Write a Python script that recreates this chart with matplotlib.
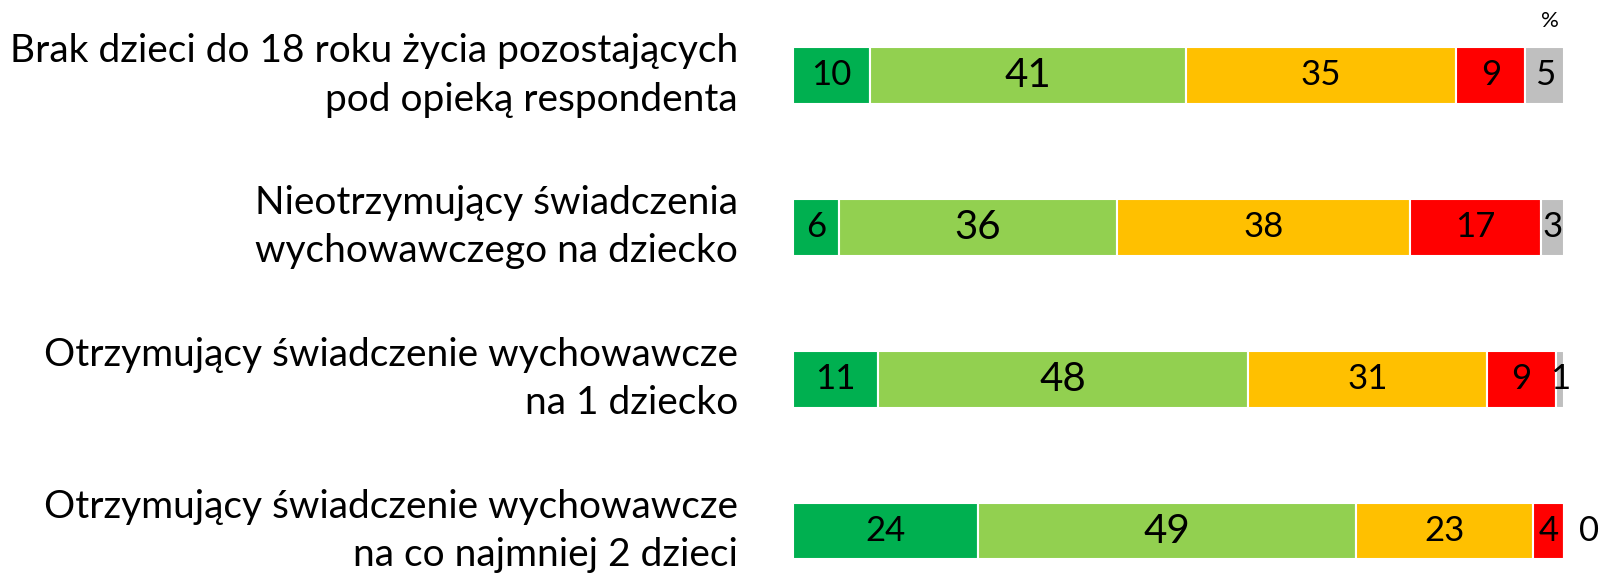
import matplotlib
matplotlib.use('Agg')
import matplotlib.pyplot as plt
import numpy as np

# Data
categories = [
    'Brak dzieci do 18 roku życia pozostających\npod opieką respondenta',
    'Nieotrzymujący świadczenia\nwychowawczego na dziecko',
    'Otrzymujący świadczenie wychowawcze\nna 1 dziecko',
    'Otrzymujący świadczenie wychowawcze\nna co najmniej 2 dzieci',
]
seg1 = [10, 6, 11, 24]
seg2 = [41, 36, 48, 49]
seg3 = [35, 38, 31, 23]
seg4 = [9, 17, 9, 4]
seg5 = [5, 3, 1, 0]

colors = ['#00B050', '#92D050', '#FFC000', '#FF0000', '#BFBFBF']
plt.rcParams['font.family'] = ['Lato', 'DejaVu Sans']

fig = plt.figure(figsize=(16, 5.74), dpi=100)
ax = fig.add_axes([0.4956, 0.0, 0.4819, 1.0])

y = np.arange(len(categories))
left = np.zeros(len(categories))
for i, (vals, col) in enumerate(zip([seg1, seg2, seg3, seg4, seg5], colors)):
    vals = np.array(vals)
    ax.barh(y, vals, left=left, height=0.375, color=col,
            edgecolor='white', linewidth=1.5)
    fs = 29 if i == 1 else 25
    for yi, v, l in zip(y, vals, left):
        if v == 0:
            ax.annotate(str(v), (l, yi), xytext=(11, 0), textcoords='offset points',
                        ha='left', va='center', fontsize=fs)
        else:
            ax.text(l + v / 2, yi, str(v), ha='center', va='center', fontsize=fs)
    left = left + vals

ax.set_xlim(0, 100)
ax.set_ylim(3.283, -0.497)
ax.axis('off')

# Category labels
for yi, cat in zip(y, categories):
    ax.annotate(cat, (0, yi), xytext=(-55, 0), textcoords='offset pixels',
                ha='right', va='center', fontsize=28, linespacing=1.42,
                annotation_clip=False)

ax.text(98.2, -0.36, '%', ha='center', va='center', fontsize=16)

fig.savefig('out.png', dpi=100)
